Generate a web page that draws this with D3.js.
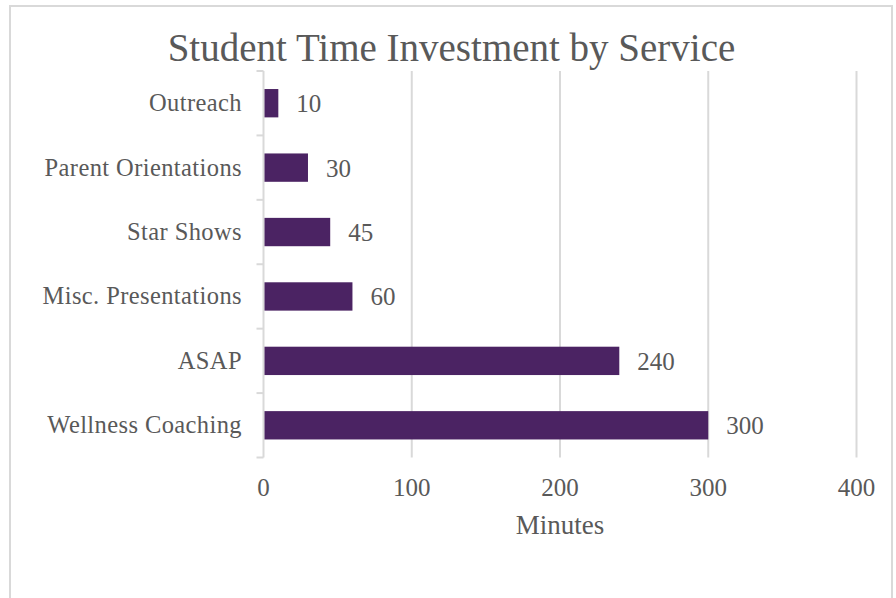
<!DOCTYPE html>
<html>
<head>
<meta charset="utf-8">
<script src="https://cdn.jsdelivr.net/npm/d3@7/dist/d3.min.js"></script>
<style>
  html, body { margin: 0; padding: 0; background: #ffffff; }
  svg { display: block; }
  text { font-family: "Liberation Serif", "Times New Roman", serif; fill: #595959; }
</style>
</head>
<body>
<script>
// Minutes of student time spent on each service
const categories = ["Outreach", "Parent Orientations", "Star Shows", "Misc. Presentations", "ASAP", "Wellness Coaching"];
const minutes = [10, 30, 45, 60, 240, 300];
const xTicks = [0, 100, 200, 300, 400];
const chartTitle = "Student Time Investment by Service";
const xAxisTitle = "Minutes";

const W = 896, H = 598;
const svg = d3.select("body").append("svg").attr("width", W).attr("height", H);

// chart frame
svg.append("rect")
  .attr("x", 10).attr("y", 6)
  .attr("width", 882).attr("height", 700)
  .attr("fill", "#ffffff")
  .attr("stroke", "#d9d9d9").attr("stroke-width", 2);

const plot = { left: 263.5, right: 856.5, top: 71, bottom: 457.5 };

const x = d3.scaleLinear().domain([0, 400]).range([plot.left, plot.right]);
const y = d3.scaleBand().domain(categories).range([plot.top, plot.bottom]).paddingInner(0.56).paddingOuter(0.28);

// vertical gridlines
svg.append("g").selectAll("line")
  .data(xTicks.filter(t => t > 0))
  .join("line")
  .attr("x1", d => x(d)).attr("x2", d => x(d))
  .attr("y1", plot.top).attr("y2", plot.bottom)
  .attr("stroke", "#d9d9d9").attr("stroke-width", 2);

// category axis with outward tick marks at band boundaries
const yAxis = svg.append("g");
yAxis.append("line")
  .attr("x1", plot.left).attr("x2", plot.left)
  .attr("y1", plot.top).attr("y2", plot.bottom)
  .attr("stroke", "#d9d9d9").attr("stroke-width", 2);
const step = (plot.bottom - plot.top) / categories.length;
yAxis.selectAll("line.tick")
  .data(d3.range(categories.length + 1))
  .join("line").attr("class", "tick")
  .attr("x1", plot.left - 7).attr("x2", plot.left)
  .attr("y1", i => plot.top + i * step).attr("y2", i => plot.top + i * step)
  .attr("stroke", "#d9d9d9").attr("stroke-width", 2);

// category labels
yAxis.selectAll("text")
  .data(categories)
  .join("text")
  .attr("x", 242)
  .attr("y", d => y(d) + y.bandwidth() / 2 + 8)
  .attr("text-anchor", "end")
  .style("font-size", "24.5px")
  .style("letter-spacing", "0.4px")
  .text(d => d);

// bars
const rows = categories.map((c, i) => ({ c, v: minutes[i] }));
svg.append("g").selectAll("rect")
  .data(rows)
  .join("rect")
  .attr("x", x(0) + 1)
  .attr("y", d => y(d.c))
  .attr("width", d => x(d.v) - x(0) - 1)
  .attr("height", y.bandwidth())
  .attr("fill", "#4b2363");

// value labels
svg.append("g").selectAll("text")
  .data(rows)
  .join("text")
  .attr("x", d => x(d.v) + 18)
  .attr("y", d => y(d.c) + y.bandwidth() / 2 + 9)
  .style("font-size", "25px")
  .text(d => d.v);

// value axis labels
svg.append("g").selectAll("text")
  .data(xTicks)
  .join("text")
  .attr("x", d => x(d))
  .attr("y", 495.5)
  .attr("text-anchor", "middle")
  .style("font-size", "25px")
  .text(d => d);

// axis title
svg.append("text")
  .attr("x", (plot.left + plot.right) / 2)
  .attr("y", 534)
  .attr("text-anchor", "middle")
  .style("font-size", "27px")
  .text(xAxisTitle);

// chart title
svg.append("text")
  .attr("x", 451.5)
  .attr("y", 61)
  .attr("text-anchor", "middle")
  .style("font-size", "39px")
  .text(chartTitle);
</script>
</body>
</html>
